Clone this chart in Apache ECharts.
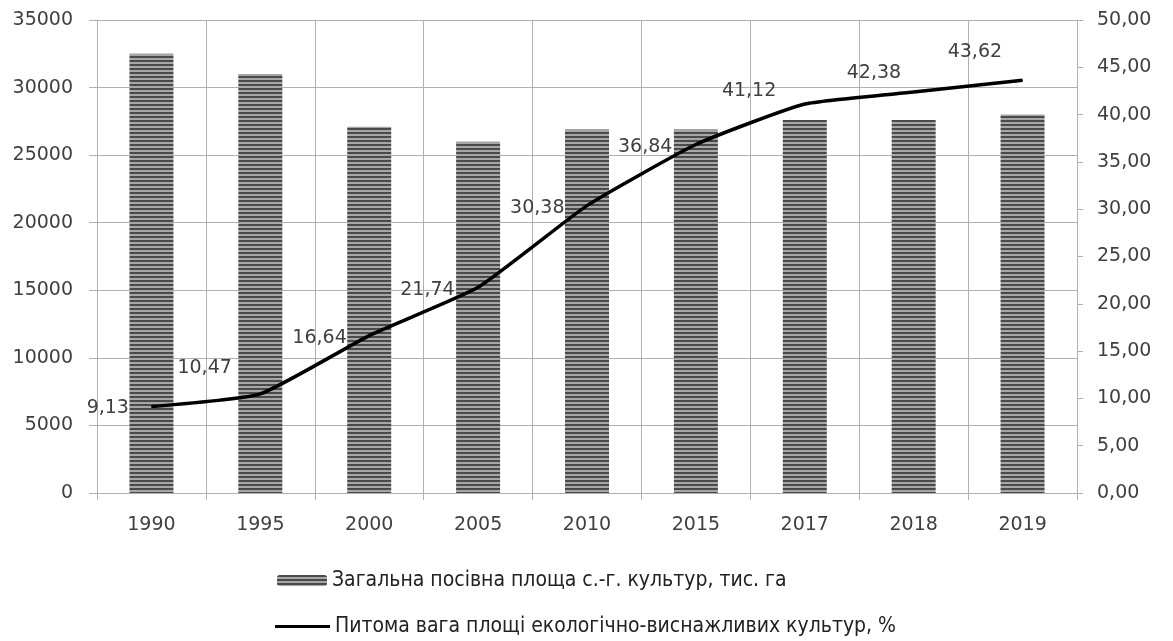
<!DOCTYPE html>
<html>
<head>
<meta charset="utf-8">
<script src="https://cdn.jsdelivr.net/npm/echarts@6/dist/echarts.min.js"></script>
<style>
html,body{margin:0;padding:0;background:#fff;}
#chart{width:1173px;height:641px;}
</style>
</head>
<body>
<div id="chart"></div>
<script>
const categories = ['1990','1995','2000','2005','2010','2015','2017','2018','2019'];
const areaValues = [32500, 31000, 27100, 26000, 26900, 26900, 27600, 27600, 28000];
const shareValues = [9.13, 10.47, 16.64, 21.74, 30.38, 36.84, 41.12, 42.38, 43.62];
const leftTicks = [0, 5000, 10000, 15000, 20000, 25000, 30000, 35000];
const rightTicks = [0, 5, 10, 15, 20, 25, 30, 35, 40, 45, 50];
const barName = 'Загальна посівна площа с.-г. культур, тис. га';
const lineName = 'Питома вага площі екологічно-виснажливих культур, %';

// label placement tweaks (style only)
const labelGap = [22, 28, 22, 23, 22, 23, 28, 12, 20];
const labelDy = [1, -26, 2, 3, 2, 3, -13, -19, -28];

function makePattern() {
  const c = document.createElement('canvas');
  c.width = 4; c.height = 4;
  const ctx = c.getContext('2d');
  ctx.fillStyle = '#a6a6a6';
  ctx.fillRect(0, 0, 4, 4);
  ctx.fillStyle = '#4a4a4a';
  ctx.fillRect(0, 0, 4, 2);
  return c;
}
const pattern = { image: makePattern(), repeat: 'repeat' };

const numFont = 'DejaVu Sans';
const legendFont = "'Liberation Sans Narrow', 'DejaVu Sans Condensed', 'Liberation Sans', Arial, sans-serif";
const txtColor = '#404040';
const gridColor = '#b0b0b0';

const chart = echarts.init(document.getElementById('chart'), null, { renderer: 'canvas' });
chart.setOption({
  animation: false,
  backgroundColor: '#ffffff',
  grid: { left: 97, right: 96, top: 20, bottom: 148, containLabel: false },
  legend: [
    {
      data: [barName],
      left: 277, top: 570, padding: 0,
      itemWidth: 50, itemHeight: 11, itemGap: 6,
      textStyle: { fontFamily: legendFont, fontSize: 21, color: '#222' }
    },
    {
      data: [{ name: lineName, icon: 'rect', itemStyle: { color: '#000' } }],
      left: 275, top: 616, padding: 0,
      itemWidth: 55, itemHeight: 3, itemGap: 4,
      textStyle: { fontFamily: legendFont, fontSize: 21, color: '#222' }
    }
  ],
  xAxis: {
    type: 'category',
    data: categories,
    boundaryGap: true,
    axisLine: { show: true, lineStyle: { color: gridColor, width: 1 } },
    axisTick: { show: true, length: 7, lineStyle: { color: gridColor } },
    splitLine: { show: true, lineStyle: { color: gridColor, width: 1 } },
    axisLabel: { fontFamily: numFont, fontSize: 19, color: txtColor, margin: 23 }
  },
  yAxis: [
    {
      type: 'value',
      min: leftTicks[0], max: leftTicks[leftTicks.length - 1], interval: leftTicks[1] - leftTicks[0],
      axisLine: { show: true, lineStyle: { color: gridColor } },
      axisTick: { show: true, length: 8, lineStyle: { color: gridColor } },
      splitLine: { show: true, lineStyle: { color: gridColor, width: 1 } },
      axisLabel: { fontFamily: numFont, fontSize: 19, color: txtColor, margin: 24, formatter: v => String(v) }
    },
    {
      type: 'value',
      position: 'right',
      min: rightTicks[0], max: rightTicks[rightTicks.length - 1], interval: rightTicks[1] - rightTicks[0],
      axisLine: { show: true, lineStyle: { color: gridColor } },
      axisTick: { show: true, length: 6, lineStyle: { color: gridColor } },
      splitLine: { show: false },
      axisLabel: {
        fontFamily: numFont, fontSize: 19, color: txtColor, margin: 20,
        formatter: v => v.toFixed(2).replace('.', ',')
      }
    }
  ],
  series: [
    {
      name: barName,
      type: 'bar',
      yAxisIndex: 0,
      barWidth: 44,
      itemStyle: { color: pattern },
      data: areaValues
    },
    {
      name: lineName,
      type: 'line',
      yAxisIndex: 1,
      smooth: 0.15,
      symbol: 'circle',
      symbolSize: 1,
      showSymbol: true,
      lineStyle: { color: '#000', width: 3.5 },
      itemStyle: { color: '#000' },
      z: 5,
      data: shareValues.map((v, i) => ({
        value: v,
        label: {
          show: true,
          position: 'left',
          distance: labelGap[i],
          offset: [0, labelDy[i]],
          fontFamily: numFont, fontSize: 19, color: txtColor,
          formatter: p => Number(p.value).toFixed(2).replace('.', ',')
        }
      }))
    }
  ]
});
</script>
</body>
</html>
